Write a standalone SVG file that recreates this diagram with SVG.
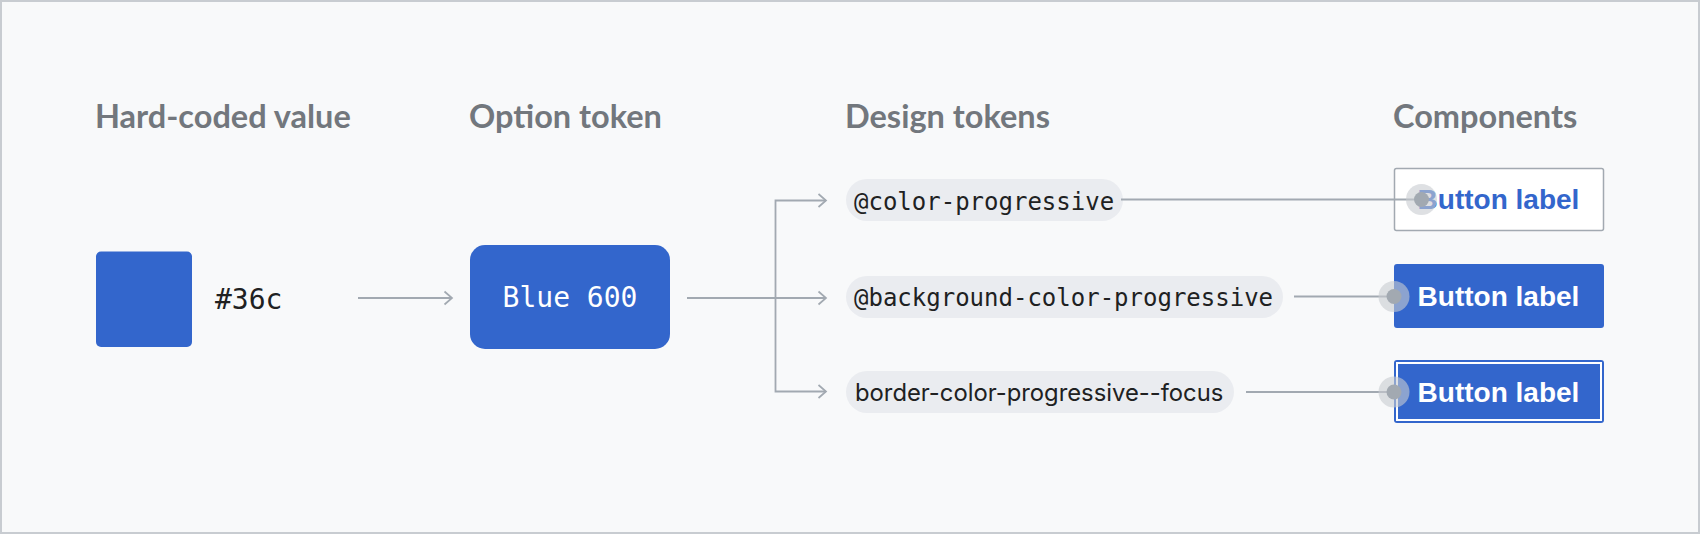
<svg xmlns="http://www.w3.org/2000/svg" width="1700" height="534" viewBox="0 0 1700 534">
<style>
.h{font-family:Lato,"Open Sans","Liberation Sans",sans-serif;font-weight:700;font-size:32.5px;fill:#72777d}
.mono{font-family:"DejaVu Sans Mono","Liberation Mono",monospace;fill:#202122}
.sans{font-family:Inter,"Noto Sans","Liberation Sans",sans-serif;fill:#202122;font-size:23.8px}
.pill{fill:#eaecf0}
.btn{font-family:"Liberation Sans",Arial,sans-serif;font-weight:700;font-size:28px;text-anchor:middle}
.ln{fill:none;stroke:#a2a9b1;stroke-width:1.8}
.halo{fill:#c8ccd1;fill-opacity:0.6}
.dot{fill:#a2a9b1}
</style>
<defs>
<marker id="arr" markerUnits="userSpaceOnUse" markerWidth="12" markerHeight="18" refX="9" refY="8" orient="auto">
<path d="M1.5,1.5 L9,8 L1.5,14.5" fill="none" stroke="#a2a9b1" stroke-width="1.7"/>
</marker>
</defs>
<rect x="1" y="1" width="1698" height="532" fill="#f8f9fa" stroke="#c8ccd1" stroke-width="2"/>

<g id="headings">
<text class="h" x="95" y="128">Hard-coded value</text>
<text class="h" x="469" y="128">Option token</text>
<text class="h" x="845" y="128">Design tokens</text>
<text class="h" x="1393" y="128">Components</text>
</g>

<g id="hard-coded">
<rect x="96" y="251.5" width="96" height="95.5" rx="5" fill="#36c"/>
<text class="mono" x="215" y="308.5" font-size="28">#36c</text>
</g>

<g id="option-token">
<rect x="470" y="245" width="200" height="104" rx="15" fill="#36c"/>
<text class="mono" x="570" y="307" font-size="28" text-anchor="middle" style="fill:#fff">Blue 600</text>
</g>

<g id="token-color-progressive">
<rect class="pill" x="846" y="179" width="277" height="42" rx="21"/>
<text class="mono" x="854" y="209.5" font-size="24">@color-progressive</text>
</g>
<g id="token-background-color-progressive">
<rect class="pill" x="846" y="276" width="437" height="42" rx="21"/>
<text class="mono" x="854" y="305.5" font-size="24">@background-color-progressive</text>
</g>
<g id="token-border-color-progressive-focus">
<rect class="pill" x="846" y="371" width="388" height="42" rx="21"/>
<text class="sans" x="855" y="400.5">border-color-progressive--focus</text>
</g>

<g id="button-quiet">
<rect x="1394.5" y="168.5" width="209" height="62" rx="2" fill="#fff" stroke="#a2a9b1" stroke-width="1.5"/>
<text class="btn" x="1498.5" y="209" fill="#36c">Button label</text>
</g>
<g id="button-primary">
<rect x="1394" y="264" width="210" height="64" rx="3" fill="#36c"/>
<text class="btn" x="1498.5" y="306" fill="#fff">Button label</text>
</g>
<g id="button-focus">
<rect x="1394" y="360" width="210" height="63" rx="3" fill="#36c"/>
<rect x="1397" y="363" width="204" height="57" fill="none" stroke="#fff" stroke-width="2"/>
<text class="btn" x="1498.5" y="402" fill="#fff">Button label</text>
</g>

<g id="connectors">
<path class="ln" d="M358,298 H452" marker-end="url(#arr)"/>
<path class="ln" d="M687,298 H826" marker-end="url(#arr)"/>
<path class="ln" d="M775.5,298 V200.5 H826" marker-end="url(#arr)"/>
<path class="ln" d="M775.5,298 V391.5 H826" marker-end="url(#arr)"/>
<path class="ln" d="M1121,199.5 H1421"/>
<path class="ln" d="M1294,296.5 H1394"/>
<path class="ln" d="M1246,392 H1394"/>
<circle class="halo" cx="1421.5" cy="199.5" r="15.5"/>
<circle class="dot" cx="1421.5" cy="199.5" r="7.5"/>
<circle class="halo" cx="1394" cy="296.5" r="15.5"/>
<circle class="dot" cx="1394" cy="296.5" r="7.5"/>
<circle class="halo" cx="1394" cy="392" r="15.5"/>
<circle class="dot" cx="1394" cy="392" r="7.5"/>
</g>
</svg>
